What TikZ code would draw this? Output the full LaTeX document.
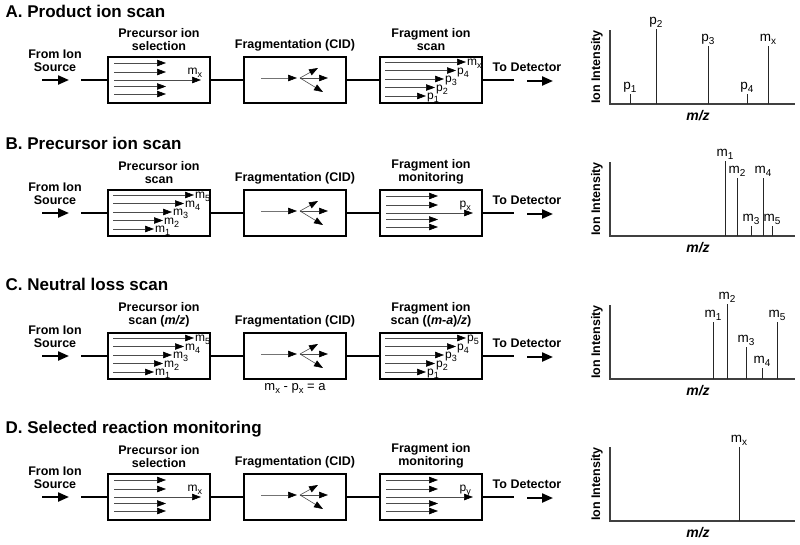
\documentclass[tikz,border=0pt]{standalone}
\usepackage{fontspec}
\setmainfont{Liberation Sans}
\usetikzlibrary{arrows.meta,calc}

\def\subsz{8.5}
\newcommand{\ion}[2]{#1\raisebox{-0.5ex}{\fontsize{\subsz}{\subsz}\selectfont #2}}

\tikzset{
  ttl/.style={font=\fontsize{17}{17}\selectfont\bfseries, anchor=base west, inner sep=0pt},
  lbl/.style={font=\fontsize{12.5}{12.8}\selectfont\bfseries, align=center, inner sep=0pt},
  stage/.style={draw, line width=2pt, minimum width=102pt, minimum height=46pt, inner sep=0pt},
  conn/.style={line width=2pt},
  bigarrow/.style={line width=2.2pt, -{Triangle[length=11pt,width=9pt]}},
  beam/.style={line width=0.6pt, draw=black!70, -{Triangle[length=9pt,width=6.5pt,color=black]}},
  axisline/.style={line width=1.2pt, draw=black!75},
  peakline/.style={line width=1pt, draw=black!85},
  plab/.style={font=\def\subsz{10}\fontsize{13.5}{13.5}\selectfont, anchor=south, inner sep=1pt},
  blab/.style={font=\def\subsz{9}\fontsize{12}{12}\selectfont, inner sep=0.5pt},
  axlab/.style={font=\fontsize{12.5}{12.5}\selectfont\bfseries, inner sep=0pt},
  mzlab/.style={font=\fontsize{14}{14}\selectfont\bfseries\itshape, inner sep=0pt},
  eqlab/.style={font=\def\subsz{9.5}\fontsize{13}{13}\selectfont, inner sep=0pt},
}

% common row: #1 = y of beam line, #2 = prefix, #3 = box1 label, #4 = box3 label
\newcommand{\rowbase}[4]{%
  \node[lbl] (#2src) at (55,#1-19) {From Ion\\Source};
  \coordinate (#2a0) at (42,#1);
  \coordinate (#2a1) at (69,#1);
  \draw[bigarrow] (#2a0) -- (#2a1);
  \coordinate (#2in) at (81,#1);
  \node[stage] (#2b1) at (159,#1) {};
  \node[stage] (#2b2) at (295,#1) {};
  \node[stage] (#2b3) at (431,#1) {};
  \node[lbl, anchor=south] (#2l1) at ($(#2b1.north)+(0,-5)$) {#3};
  \node[lbl, anchor=south] (#2l2) at ($(#2b2.north)+(0,-5)$) {Fragmentation (CID)};
  \node[lbl, anchor=south] (#2l3) at ($(#2b3.north)+(0,-5)$) {#4};
  \coordinate (#2out) at (514,#1);
  \draw[conn] (#2in) -- (#2b1.west);
  \draw[conn] (#2b1.east) -- (#2b2.west);
  \draw[conn] (#2b2.east) -- (#2b3.west);
  \draw[conn] (#2b3.east) -- (#2out);
  \node[lbl] (#2det) at (527,#1-12.5) {To Detector};
  \coordinate (#2d0) at (527,#1+1);
  \coordinate (#2d1) at (553,#1+1);
  \draw[bigarrow] (#2d0) -- (#2d1);
  % fragmentation cell
  \draw[beam, draw=black!55] ($(#2b2.west)+(18,-2)$) -- ($(#2b2.west)+(54,-2)$);
  \draw[beam] ($(#2b2.west)+(57,-2)$) -- ($(#2b2.west)+(75,-12)$);
  \draw[beam] ($(#2b2.west)+(57,-2)$) -- ($(#2b2.west)+(85,-2)$);
  \draw[beam] ($(#2b2.west)+(57,-2)$) -- ($(#2b2.west)+(80,12)$);
}

% selection / monitoring box: #1 = box, #2 = label
\newcommand{\selbox}[2]{%
  \foreach \dy in {-17,-8,6.5,14}
    \draw[beam] ($(#1.west)+(7,\dy)$) -- ($(#1.west)+(59,\dy)$);
  \draw[beam] ($(#1.west)+(7,0)$) -- ($(#1.west)+(94,0)$);
  \node[blab, anchor=base west] (#1lab) at ($(#1.west)+(80,-5.5)$) {#2};
}

% scanning box: #1 = box, #2..#6 labels from top to bottom
\newcommand{\scanbox}[6]{%
  \foreach \dy/\tx/\lb [count=\i] in {-18/87/{#2},-9.5/77/{#3},-1/65/{#4},7.5/56/{#5},16/47/{#6}} {
    \draw[beam] ($(#1.west)+(6,\dy)$) -- ($(#1.west)+(\tx,\dy)$);
    \node[blab, anchor=west] (#1lab\i) at ($(#1.west)+(\tx+0.5,\dy+2)$) {\lb};
  }
}

% spectrum axes: #1 prefix, #2 bottom y
\newcommand{\spectrum}[2]{%
  \coordinate (#1o) at (610,#2);
  \coordinate (#1yt) at (610,#2-74);
  \coordinate (#1xe) at (795,#2);
  \draw[axisline] (#1yt) -- (#1o) -- (#1xe);
  \node[axlab, rotate=90] (#1il) at (597,#2-37) {Ion Intensity};
  \node[mzlab] (#1mz) at (698,#2+12) {m/z};
}
% peak: #1 name, #2 x, #3 bottom, #4 height, #5 label
\newcommand{\peak}[5]{%
  \coordinate (#1) at (#2,#3);
  \coordinate (#1t) at (#2,#3-#4);
  \draw[peakline] (#1) -- (#1t);
  \node[plab] (#1l) at (#1t) {#5};
}

\begin{document}
\begin{tikzpicture}[x=1pt,y=-1pt]
\useasboundingbox (0,0) rectangle (800,544);

% ---------- A ----------
\node[ttl] (At) at (5.5,17) {A. Product ion scan};
\rowbase{80}{A}{Precursor ion\\selection}{Fragment ion\\scan}
\selbox{Ab1}{\ion{m}{x}}
\scanbox{Ab3}{\ion{m}{x}}{\ion{p}{4}}{\ion{p}{3}}{\ion{p}{2}}{\ion{p}{1}}
\spectrum{As}{104}
\peak{Ap1}{630}{104}{10}{\ion{p}{1}}
\peak{Ap2}{656}{104}{75}{\ion{p}{2}}
\peak{Ap3}{708}{104}{58}{\ion{p}{3}}
\peak{Ap4}{747}{104}{10}{\ion{p}{4}}
\peak{Amx}{768}{104}{58}{\ion{m}{x}}

% ---------- B ----------
\node[ttl] (Bt) at (5.5,149) {B. Precursor ion scan};
\rowbase{213}{B}{Precursor ion\\scan}{Fragment ion\\monitoring}
\scanbox{Bb1}{\ion{m}{5}}{\ion{m}{4}}{\ion{m}{3}}{\ion{m}{2}}{\ion{m}{1}}
\selbox{Bb3}{\ion{p}{x}}
\spectrum{Bs}{236}
\peak{Bm1}{725}{236}{75}{\ion{m}{1}}
\peak{Bm2}{737}{236}{58}{\ion{m}{2}}
\peak{Bm3}{751}{236}{10}{\ion{m}{3}}
\peak{Bm4}{763}{236}{58}{\ion{m}{4}}
\peak{Bm5}{772}{236}{10}{\ion{m}{5}}

% ---------- C ----------
\node[ttl] (Ct) at (5.5,290) {C. Neutral loss scan};
\rowbase{356}{C}{Precursor ion\\scan (\textit{m/z})}{Fragment ion\\scan ((\textit{m-a})\textit{/z})}
\scanbox{Cb1}{\ion{m}{5}}{\ion{m}{4}}{\ion{m}{3}}{\ion{m}{2}}{\ion{m}{1}}
\scanbox{Cb3}{\ion{p}{5}}{\ion{p}{4}}{\ion{p}{3}}{\ion{p}{2}}{\ion{p}{1}}
\node[eqlab, anchor=north] (Ceq) at ($(Cb2.south)+(0,3)$) {\ion{m}{x} - \ion{p}{x} = a};
\spectrum{Cs}{379}
\peak{Cm1}{713}{379}{57}{\ion{m}{1}}
\peak{Cm2}{727}{379}{75}{\ion{m}{2}}
\peak{Cm3}{746}{379}{32}{\ion{m}{3}}
\peak{Cm4}{762}{379}{11}{\ion{m}{4}}
\peak{Cm5}{777}{379}{57}{\ion{m}{5}}

% ---------- D ----------
\node[ttl] (Dt) at (5.5,433) {D. Selected reaction monitoring};
\rowbase{497}{D}{Precursor ion\\selection}{Fragment ion\\monitoring}
\selbox{Db1}{\ion{m}{x}}
\selbox{Db3}{\ion{p}{y}}
\spectrum{Ds}{521}
\peak{Dmx}{739}{521}{74}{\ion{m}{x}}

\end{tikzpicture}
\end{document}
